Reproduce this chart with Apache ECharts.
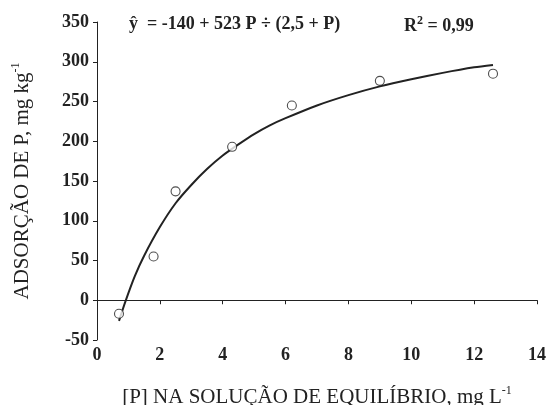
<!DOCTYPE html>
<html><head><meta charset="utf-8">
<script src="https://cdn.jsdelivr.net/npm/echarts@6/dist/echarts.min.js"></script>
<style>html,body{margin:0;padding:0;background:#fff}#c{width:548px;height:405px}</style>
</head><body><div id="c"></div>
<script>
// Observed data points
const obsP = [0.7, 1.8, 2.5, 4.3, 6.2, 9.0, 12.6];
const obsY = [-17, 55, 137, 193, 245, 276, 285];
// Fitted curve
const fitP = [0.7, 0.9, 1.2, 1.5, 2.0, 2.5, 3.0, 3.5, 4.0, 4.5, 5.0, 5.5, 6.0, 7.0, 8.0, 9.0, 10.0, 11.0, 12.0, 12.6];
const fitY = [-26, -2, 30, 56, 92, 122, 145, 165, 182, 196, 209, 220, 229, 245, 258, 269, 278, 286, 293, 296];
const xTicks = [0, 2, 4, 6, 8, 10, 12, 14];
const yTicks = [-50, 0, 50, 100, 150, 200, 250, 300, 350];

const serif = '"Liberation Serif", "Times New Roman", serif';
const chart = echarts.init(document.getElementById('c'));
chart.setOption({
  animation: false,
  backgroundColor: '#fff',
  grid: {left: 97, right: 11, top: 22, bottom: 65, containLabel: false, outerBoundsMode: 'none'},
  xAxis: {
    type: 'value', min: xTicks[0], max: xTicks[xTicks.length-1], interval: 2,
    name: '[P] NA SOLUÇÃO DE EQUILÍBRIO, mg L{s|-1}', nameLocation: 'middle', nameGap: 45,
    nameTextStyle: {fontFamily: serif, fontSize: 21, color: '#222', rich: {s: {fontFamily: serif, fontSize: 12, color: '#222', padding: [0,0,12,0]}}},
    axisLine: {lineStyle: {color: '#222', width: 1}},
    axisTick: {show: true, length: 4, inside: false, lineStyle: {color: '#222'}},
    axisLabel: {fontFamily: serif, fontWeight: 'bold', fontSize: 18, color: '#222', margin: 6},
    splitLine: {show: false}
  },
  yAxis: {
    type: 'value', min: yTicks[0], max: yTicks[yTicks.length-1], interval: 50,
    name: 'ADSORÇÃO DE P, mg kg{s|-1}', nameLocation: 'middle', nameGap: 63, nameRotate: 90,
    nameTextStyle: {fontFamily: serif, fontSize: 21, color: '#222', rich: {s: {fontFamily: serif, fontSize: 12, color: '#222', padding: [0,0,12,0]}}},
    axisLine: {show: true, lineStyle: {color: '#222', width: 1}},
    axisTick: {show: true, length: 4, inside: false, lineStyle: {color: '#222'}},
    axisLabel: {fontFamily: serif, fontWeight: 'bold', fontSize: 18, color: '#222', margin: 8},
    splitLine: {show: false}
  },
  graphic: [
    {type: 'text', left: 129, top: 15, style: {text: 'ŷ  = -140 + 523 P ÷ (2,5 + P)', font: 'bold 18px ' + serif, fill: '#222'}},
    {type: 'text', left: 404, top: 15, style: {rich: {a: {font: 'bold 18px ' + serif, fill: '#222'}, s: {font: 'bold 12px ' + serif, fill: '#222', padding: [0,0,10,0]}}, text: '{a|R}{s|2}{a| = 0,99}'}}
  ],
  series: [
    {type: 'line', data: fitP.map((p, i) => [p, fitY[i]]), smooth: 0.25, showSymbol: false, symbol: 'none',
     lineStyle: {color: '#222', width: 2}, z: 2},
    {type: 'scatter', data: obsP.map((p, i) => [p, obsY[i]]), symbol: 'circle', symbolSize: 9,
     itemStyle: {color: '#fff', borderColor: '#222', borderWidth: 1.1}, z: 3}
  ]
});
</script></body></html>
